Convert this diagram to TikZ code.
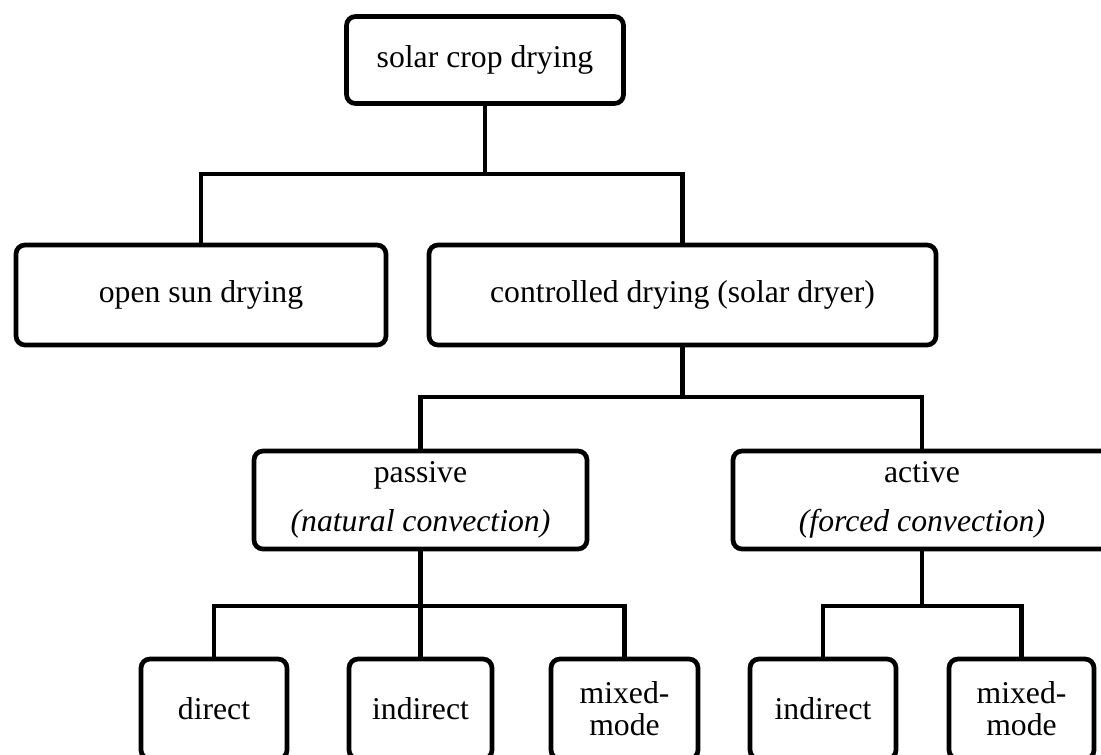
\documentclass[tikz,border=0pt]{standalone}
\usepackage{fontspec}
\setmainfont{Liberation Serif}
\usepackage{tikz}

\begin{document}
\begin{tikzpicture}[x=1pt, y=-1pt, line width=4.7pt, every node/.style={draw, rounded corners=9pt, align=center, inner sep=0pt, font=\fontsize{31.7}{49}\selectfont}]
  \useasboundingbox (0,0) rectangle (1101,755);

  \node[minimum width=277pt, minimum height=87pt] (root) at (485,60) {solar crop drying};

  \node[minimum width=370pt, minimum height=100pt] (open) at (201,295) {open sun drying};
  \node[minimum width=507pt, minimum height=100pt] (ctrl) at (682.5,295) {controlled drying (solar dryer)};

  \node[minimum width=333pt, minimum height=98pt] (pass) at (420.5,500) {passive\\\textit{(natural convection)}};
  \node[minimum width=378pt, minimum height=98pt] (act) at (922,500) {active\\\textit{(forced convection)}};

  \node[minimum width=146pt, minimum height=100pt] (pdir) at (214,709) {direct};
  \node[minimum width=143pt, minimum height=100pt] (pind) at (420.5,709) {indirect};
  \node[minimum width=147pt, minimum height=100pt, font=\fontsize{31.7}{32}\selectfont] (pmix) at (624.5,709) {mixed-\\mode};
  \node[minimum width=146pt, minimum height=100pt] (aind) at (823,709) {indirect};
  \node[minimum width=145pt, minimum height=100pt, font=\fontsize{31.7}{32}\selectfont] (amix) at (1021.5,709) {mixed-\\mode};

  \coordinate (j1) at (485,174);
  \coordinate (j2) at (682.5,397);
  \coordinate (j3) at (420.5,606);
  \coordinate (j4) at (922,606);

  \draw (root.south) -- (j1); \draw (open.north) |- (j1) -| (ctrl.north);
  \draw (ctrl.south) -- (j2); \draw (pass.north) |- (j2) -| (act.north);
  \draw (pass.south) -- (pind.north); \draw (pdir.north) |- (j3) -| (pmix.north);
  \draw (act.south) -- (j4); \draw (aind.north) |- (j4) -| (amix.north);
\end{tikzpicture}
\end{document}
